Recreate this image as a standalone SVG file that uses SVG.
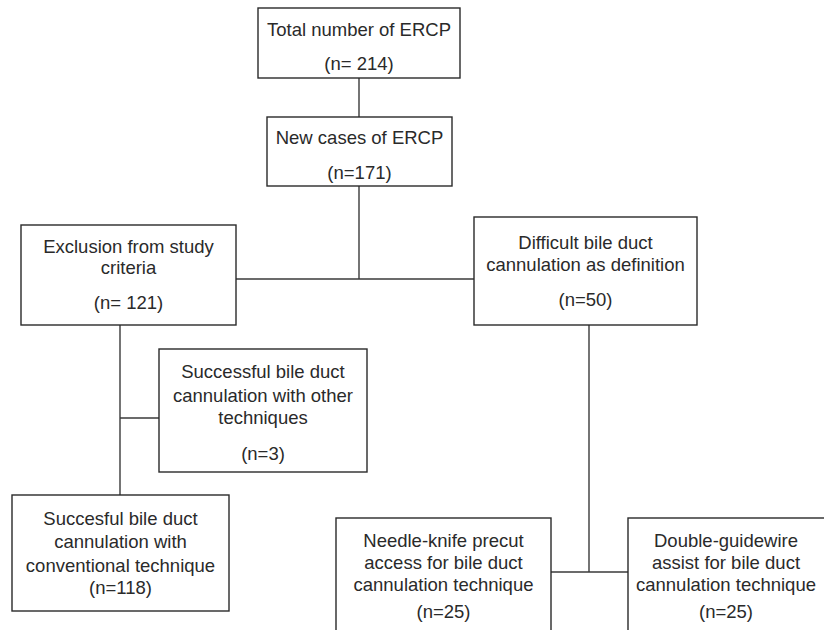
<svg xmlns="http://www.w3.org/2000/svg" width="824" height="630" viewBox="0 0 824 630">
<style>
.box{fill:#fff;stroke:#2a2a2a;stroke-width:1.4}
.ln{stroke:#3a3a3a;stroke-width:1.4;fill:none}
text{font-family:"Liberation Sans",Arial,sans-serif;font-size:18.5px;fill:#2a2a2a;text-anchor:middle}
</style>
<rect width="824" height="630" fill="#fff"/>
<g id="connectors">
<line class="ln" x1="359" y1="78" x2="359" y2="117"/>
<line class="ln" x1="359" y1="186" x2="359" y2="279"/>
<line class="ln" x1="236" y1="279" x2="474" y2="279"/>
<line class="ln" x1="120" y1="325" x2="120" y2="495"/>
<line class="ln" x1="120" y1="418" x2="159" y2="418"/>
<line class="ln" x1="589" y1="325" x2="589" y2="572"/>
<line class="ln" x1="551" y1="572" x2="628" y2="572"/>
</g>
<g id="total">
<rect class="box" x="258" y="8" width="202" height="70"/>
<text x="359" y="36">Total number of ERCP</text>
<text x="359" y="70">(n= 214)</text>
</g>
<g id="new">
<rect class="box" x="267" y="117" width="185" height="69"/>
<text x="359.5" y="144">New cases of ERCP</text>
<text x="359.5" y="179">(n=171)</text>
</g>
<g id="exclusion">
<rect class="box" x="21" y="225" width="215" height="100"/>
<text x="128.5" y="253">Exclusion from study</text>
<text x="128.5" y="274">criteria</text>
<text x="128.5" y="309">(n= 121)</text>
</g>
<g id="difficult">
<rect class="box" x="474" y="217" width="223" height="108"/>
<text x="585.5" y="249">Difficult bile duct</text>
<text x="585.5" y="271">cannulation as definition</text>
<text x="585.5" y="306">(n=50)</text>
</g>
<g id="other">
<rect class="box" x="159" y="349" width="208" height="123"/>
<text x="263" y="378">Successful bile duct</text>
<text x="263" y="402">cannulation with other</text>
<text x="263" y="424">techniques</text>
<text x="263" y="460">(n=3)</text>
</g>
<g id="conventional">
<rect class="box" x="12" y="495" width="217" height="116"/>
<text x="120.5" y="525">Succesful bile duct</text>
<text x="120.5" y="548">cannulation with</text>
<text x="120.5" y="572">conventional technique</text>
<text x="120.5" y="594">(n=118)</text>
</g>
<g id="needle">
<rect class="box" x="336" y="518" width="215" height="130"/>
<text x="443.5" y="547">Needle-knife precut</text>
<text x="443.5" y="569">access for bile duct</text>
<text x="443.5" y="591">cannulation technique</text>
<text x="443.5" y="618">(n=25)</text>
</g>
<g id="double">
<rect class="box" x="628" y="518" width="210" height="130"/>
<text x="726" y="547">Double-guidewire</text>
<text x="726" y="569">assist for bile duct</text>
<text x="726" y="591">cannulation technique</text>
<text x="726" y="618">(n=25)</text>
</g>
</svg>
